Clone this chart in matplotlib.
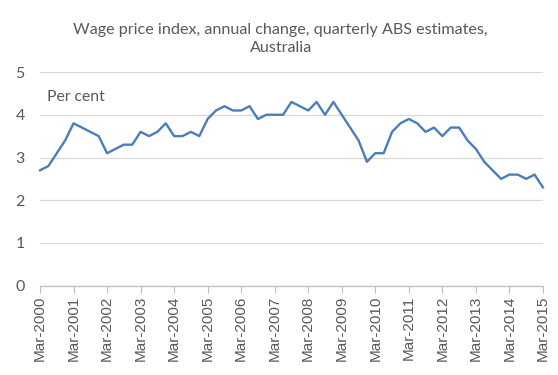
import matplotlib
matplotlib.use("Agg")
import matplotlib.pyplot as plt

# Wage price index, annual % change, quarterly, Mar-2000 .. Mar-2015
wpi = [2.7, 2.8, 3.1, 3.4,
       3.8, 3.7, 3.6, 3.5,
       3.1, 3.2, 3.3, 3.3,
       3.6, 3.5, 3.6, 3.8,
       3.5, 3.5, 3.6, 3.5,
       3.9, 4.1, 4.2, 4.1,
       4.1, 4.2, 3.9, 4.0,
       4.0, 4.0, 4.3, 4.2,
       4.1, 4.3, 4.0, 4.3,
       4.0, 3.7, 3.4, 2.9,
       3.1, 3.1, 3.6, 3.8,
       3.9, 3.8, 3.6, 3.7,
       3.5, 3.7, 3.7, 3.4,
       3.2, 2.9, 2.7, 2.5,
       2.6, 2.6, 2.5, 2.6,
       2.3]
years = list(range(2000, 2016))
tick_labels = ["Mar-{}".format(y) for y in years]
title = "Wage price index, annual change, quarterly ABS estimates,\nAustralia"

text_color = "#595959"
grid_color = "#d9d9d9"
line_color = "#4a7ebb"

fig = plt.figure(figsize=(5.58, 3.75), dpi=100)
ax = fig.add_axes([0.0717, 0.238, 0.9013, 0.570])

quarters = list(range(len(wpi)))
ax.plot(quarters, wpi, color=line_color, lw=1.7, clip_on=False,
        solid_joinstyle="round")

ax.set_xlim(0, len(wpi) - 1)
ax.set_ylim(0, 5)
ax.set_yticks(range(0, 6))
ax.set_xticks(quarters[::4])
ax.set_xticklabels(tick_labels, rotation=90, family="Liberation Sans",
                   fontsize=11, color=text_color)
ax.tick_params(axis="x", direction="out", length=5, width=0.8,
               color="#bfbfbf", pad=2)
ax.tick_params(axis="y", length=0, pad=11, labelsize=11.5,
               labelcolor=text_color)
for lab in ax.get_yticklabels():
    lab.set_family("Lato")

ax.grid(axis="y", color=grid_color, lw=0.9)
ax.set_axisbelow(True)
for side in ["top", "right", "left"]:
    ax.spines[side].set_visible(False)
ax.spines["bottom"].set_color("#bfbfbf")
ax.spines["bottom"].set_linewidth(0.9)

ax.text(0.014, 0.882, "Per cent", transform=ax.transAxes, family="Lato",
        fontsize=11.3, color=text_color, va="center")

fig.text(0.503, 0.897, title, ha="center", va="center", family="Lato",
         fontsize=11.6, color=text_color, linespacing=1.35)

fig.savefig("out.png", dpi=100)
